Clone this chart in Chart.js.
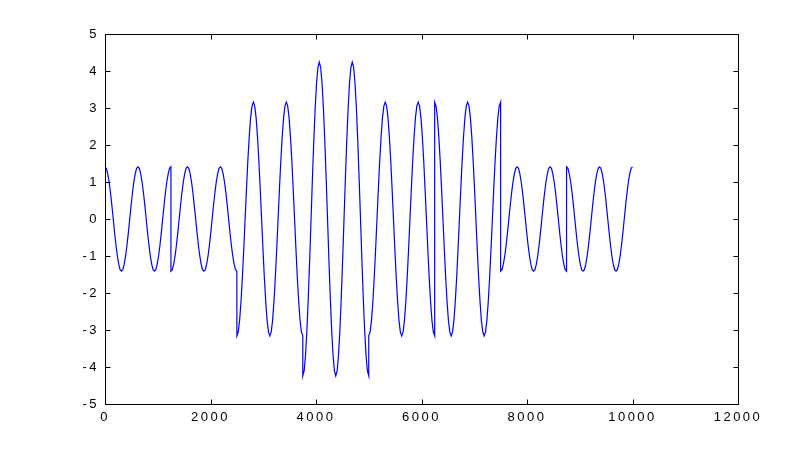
<!DOCTYPE html>
<html>
<head>
<meta charset="utf-8">
<script src="https://cdn.jsdelivr.net/npm/chart.js@4.4.1/dist/chart.umd.min.js"></script>
<style>
  html, body { margin: 0; padding: 0; background: #fff; }
  #wrap { width: 812px; height: 453px; }
</style>
</head>
<body>
<div id="wrap"><canvas id="c" width="812" height="453"></canvas></div>
<script>
// ---- data ----
const segStarts = [0, 1250, 2500, 3750, 5000, 6250, 7500, 8750];
const xOffsets = [0, 26.04, 52.08, 78.13, 104.17, 130.21, 156.25, 182.29, 208.33, 234.38, 260.42, 286.46,
  312.5, 338.54, 364.58, 390.63, 416.67, 442.71, 468.75, 494.79, 520.83, 546.88, 572.92, 598.96,
  625, 651.04, 677.08, 703.13, 729.17, 755.21, 781.25, 807.29, 833.33, 859.38, 885.42, 911.46,
  937.5, 963.54, 989.58, 1015.63, 1041.67, 1067.71, 1093.75, 1119.79, 1145.83, 1171.88, 1197.92, 1223.96, 1250];

const seg1 = [1.41,1.37,1.22,1.00,0.71,0.37,0,-0.37,-0.71,-1.00,-1.22,-1.37,-1.41,-1.37,-1.22,-1.00,-0.71,-0.37,0,0.37,0.71,1.00,1.22,1.37,
  1.41,1.37,1.22,1.00,0.71,0.37,0,-0.37,-0.71,-1.00,-1.22,-1.37,-1.41,-1.37,-1.22,-1.00,-0.71,-0.37,0,0.37,0.71,1.00,1.22,1.37,1.41];
const seg2 = [-1.41,-1.37,-1.22,-1.00,-0.71,-0.37,0,0.37,0.71,1.00,1.22,1.37,1.41,1.37,1.22,1.00,0.71,0.37,0,-0.37,-0.71,-1.00,-1.22,-1.37,
  -1.41,-1.37,-1.22,-1.00,-0.71,-0.37,0,0.37,0.71,1.00,1.22,1.37,1.41,1.37,1.22,1.00,0.71,0.37,0,-0.37,-0.71,-1.00,-1.22,-1.37,-1.41];
const seg3 = [-3.16,-3.05,-2.74,-2.23,-1.58,-0.82,0,0.82,1.58,2.23,2.74,3.05,3.16,3.05,2.74,2.23,1.58,0.82,0,-0.82,-1.58,-2.23,-2.74,-3.05,
  -3.16,-3.05,-2.74,-2.23,-1.58,-0.82,0,0.82,1.58,2.23,2.74,3.05,3.16,3.05,2.74,2.23,1.58,0.82,0,-0.82,-1.58,-2.23,-2.74,-3.05,-3.16];
const seg4 = [-4.24,-4.10,-3.67,-3.00,-2.12,-1.10,0,1.10,2.12,3.00,3.67,4.10,4.24,4.10,3.67,3.00,2.12,1.10,0,-1.10,-2.12,-3.00,-3.67,-4.10,
  -4.24,-4.10,-3.67,-3.00,-2.12,-1.10,0,1.10,2.12,3.00,3.67,4.10,4.24,4.10,3.67,3.00,2.12,1.10,0,-1.10,-2.12,-3.00,-3.67,-4.10,-4.24];
const seg5 = [-3.16,-3.05,-2.74,-2.23,-1.58,-0.82,0,0.82,1.58,2.23,2.74,3.05,3.16,3.05,2.74,2.23,1.58,0.82,0,-0.82,-1.58,-2.23,-2.74,-3.05,
  -3.16,-3.05,-2.74,-2.23,-1.58,-0.82,0,0.82,1.58,2.23,2.74,3.05,3.16,3.05,2.74,2.23,1.58,0.82,0,-0.82,-1.58,-2.23,-2.74,-3.05,-3.16];
const seg6 = [3.16,3.05,2.74,2.23,1.58,0.82,0,-0.82,-1.58,-2.23,-2.74,-3.05,-3.16,-3.05,-2.74,-2.23,-1.58,-0.82,0,0.82,1.58,2.23,2.74,3.05,
  3.16,3.05,2.74,2.23,1.58,0.82,0,-0.82,-1.58,-2.23,-2.74,-3.05,-3.16,-3.05,-2.74,-2.23,-1.58,-0.82,0,0.82,1.58,2.23,2.74,3.05,3.16];
const seg7 = [-1.41,-1.37,-1.22,-1.00,-0.71,-0.37,0,0.37,0.71,1.00,1.22,1.37,1.41,1.37,1.22,1.00,0.71,0.37,0,-0.37,-0.71,-1.00,-1.22,-1.37,
  -1.41,-1.37,-1.22,-1.00,-0.71,-0.37,0,0.37,0.71,1.00,1.22,1.37,1.41,1.37,1.22,1.00,0.71,0.37,0,-0.37,-0.71,-1.00,-1.22,-1.37,-1.41];
const seg8 = [1.41,1.37,1.22,1.00,0.71,0.37,0,-0.37,-0.71,-1.00,-1.22,-1.37,-1.41,-1.37,-1.22,-1.00,-0.71,-0.37,0,0.37,0.71,1.00,1.22,1.37,
  1.41,1.37,1.22,1.00,0.71,0.37,0,-0.37,-0.71,-1.00,-1.22,-1.37,-1.41,-1.37,-1.22,-1.00,-0.71,-0.37,0,0.37,0.71,1.00,1.22,1.37,1.41];
const segments = [seg1, seg2, seg3, seg4, seg5, seg6, seg7, seg8];

const xTicks = [0, 2000, 4000, 6000, 8000, 10000, 12000];
const yTicks = [-5, -4, -3, -2, -1, 0, 1, 2, 3, 4, 5];

// ---- build points ----
const points = [];
segments.forEach((seg, k) => {
  seg.forEach((v, j) => points.push({ x: segStarts[k] + xOffsets[j], y: v }));
});

const FONT = { family: '"Liberation Sans", Arial, sans-serif', size: 13 };
const SPACING = '2.5px';

const framePlugin = {
  id: 'frameTicks',
  beforeLayout(chart) { chart.ctx.letterSpacing = SPACING; },
  beforeDraw(chart) {
    const ctx = chart.ctx;
    ctx.save();
    ctx.fillStyle = '#fff';
    ctx.fillRect(0, 0, chart.width, chart.height);
    ctx.restore();
    ctx.letterSpacing = SPACING;
  },
  afterDraw(chart) {
    const ctx = chart.ctx;
    const a = chart.chartArea;
    const xs = chart.scales.x, ys = chart.scales.y;
    const L = Math.round(a.left) + 0.5, R = Math.round(a.right) + 0.5;
    const T = Math.round(a.top) + 0.5, B = Math.round(a.bottom) + 0.5;
    const tl = 5;
    ctx.save();
    ctx.strokeStyle = '#000';
    ctx.lineWidth = 1;
    ctx.beginPath();
    ctx.rect(L, T, R - L, B - T);
    xTicks.forEach(v => {
      const px = Math.round(xs.getPixelForValue(v)) + 0.5;
      ctx.moveTo(px, B); ctx.lineTo(px, B - tl);
      ctx.moveTo(px, T); ctx.lineTo(px, T + tl);
    });
    yTicks.forEach(v => {
      const py = Math.round(ys.getPixelForValue(v)) + 0.5;
      ctx.moveTo(L, py); ctx.lineTo(L + tl, py);
      ctx.moveTo(R, py); ctx.lineTo(R - tl, py);
    });
    ctx.stroke();
    ctx.restore();
  }
};

new Chart(document.getElementById('c'), {
  type: 'line',
  data: {
    datasets: [{
      data: points,
      borderColor: '#0000ff',
      borderWidth: 1.2,
      pointRadius: 0,
      tension: 0,
      fill: false
    }]
  },
  options: {
    responsive: false,
    animation: false,
    devicePixelRatio: 1,
    layout: { padding: { left: 0, top: 34, right: 74, bottom: 0 } },
    plugins: { legend: { display: false }, tooltip: { enabled: false } },
    scales: {
      x: {
        type: 'linear',
        min: 0, max: 12000,
        afterBuildTicks: s => { s.ticks = xTicks.map(v => ({ value: v })); },
        afterFit: s => { s.height = 49; },
        grid: { display: false },
        border: { display: false },
        ticks: { color: '#000', font: FONT, padding: -2, maxRotation: 0, autoSkip: false,
                 callback: v => String(v) }
      },
      y: {
        type: 'linear',
        min: -5, max: 5,
        afterBuildTicks: s => { s.ticks = yTicks.map(v => ({ value: v })); },
        afterFit: s => { s.width = 105; },
        grid: { display: false },
        border: { display: false },
        ticks: { color: '#000', font: FONT, padding: -2, autoSkip: false,
                 callback: v => String(v) }
      }
    }
  },
  plugins: [framePlugin]
});
</script>
</body>
</html>
